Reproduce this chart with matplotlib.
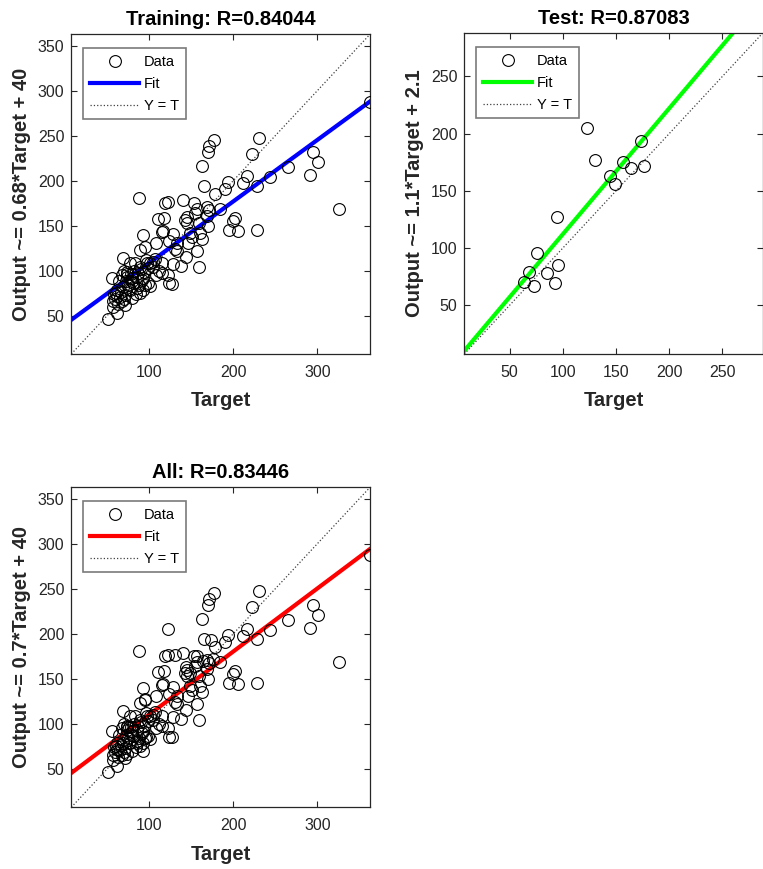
import numpy as np
import matplotlib
matplotlib.use('Agg')
import matplotlib.pyplot as plt

from matplotlib import rc
rc('font', **{'family': 'sans-serif', 'sans-serif': ['Liberation Sans', 'DejaVu Sans'], 'size': 11.5})

# training set (target, output)
train_t = [362.7, 230.2, 177.4, 171.0, 169.4, 222.2, 295.2, 300.8, 162.7, 265.1,
           291.3, 216.7, 211.5, 194.0, 189.7, 228.2, 244.0, 164.7, 178.2, 184.5,
           87.7, 121.8, 118.7, 139.7, 153.6, 156.3, 168.3, 171.4, 169.0, 325.8,
           202.4, 200.0, 194.8, 205.2, 228.2, 110.3, 117.9, 142.9, 144.4, 154.0,
           158.7, 169.8, 114.7, 116.7, 128.6, 148.4, 150.4, 160.3, 162.3, 92.5,
           108.3, 94.8, 123.8, 132.5, 146.4, 130.2, 88.5, 156.3, 143.7, 128.6,
           137.3, 158.7, 122.6, 127.4, 123.4, 115.5, 115.5, 111.1, 106.3, 100.8,
           96.8, 98.8, 98.4, 101.2, 94.8, 68.3, 77.0, 83.0, 88.9, 55.2,
           67.1, 73.0, 79.0, 84.9, 90.9, 81.0, 75.0, 69.0, 61.1, 84.9,
           88.9, 79.0, 71.0, 65.1, 59.1, 57.1, 67.1, 71.0, 63.1, 56.3,
           61.9, 50.4, 69.8, 77.0, 92.9, 145.0, 133.0, 104.0, 60.0, 74.0,
           64.0, 70.0, 74.0, 78.0, 82.0, 86.0, 90.0, 94.0, 72.0, 80.0,
           88.0, 76.0, 66.0, 84.0, 92.0, 104.0, 108.0, 62.0, 58.0, 96.0]
train_y = [287.4, 247.0, 245.6, 238.9, 231.9, 229.6, 232.2, 220.7, 215.9, 214.8,
           206.3, 205.6, 197.4, 198.9, 191.1, 194.4, 204.1, 193.7, 184.8, 168.9,
           181.1, 176.7, 174.8, 178.5, 175.6, 168.1, 171.1, 167.4, 161.1, 168.1,
           158.9, 154.8, 144.8, 144.4, 144.8, 157.4, 158.9, 156.3, 153.3, 164.4,
           152.6, 150.0, 143.3, 144.1, 141.1, 141.5, 137.8, 141.5, 135.6, 139.3,
           130.7, 126.7, 132.6, 130.4, 130.4, 124.4, 123.0, 121.9, 114.8, 107.8,
           105.6, 104.1, 94.8, 84.8, 85.6, 108.5, 97.8, 100.0, 113.0, 108.1,
           108.1, 102.6, 85.9, 83.0, 84.1, 114.1, 108.1, 108.1, 104.4, 92.2,
           95.2, 93.3, 91.5, 93.3, 89.6, 85.9, 84.1, 82.2, 78.5, 80.4,
           74.8, 70.0, 73.0, 71.1, 68.1, 65.6, 65.6, 61.9, 62.6, 59.3,
           52.6, 46.3, 68.1, 78.5, 78.5, 160.0, 122.0, 110.0, 75.0, 96.0,
           88.0, 100.0, 98.0, 96.0, 100.0, 97.0, 102.0, 98.0, 88.0, 88.0,
           84.0, 79.0, 76.0, 74.0, 92.0, 104.0, 95.0, 72.0, 74.0, 112.0]

# test set
test_t = [122.6, 173.7, 130.3, 156.4, 163.8, 176.2, 144.3, 148.9,
          95.0, 75.4, 68.3, 63.3, 73.3, 85.3, 95.6, 92.8]
test_y = [204.9, 193.5, 176.6, 175.2, 169.6, 171.4, 163.2, 156.0,
          127.1, 96.0, 78.8, 70.7, 66.9, 78.5, 84.9, 69.5]

# fit coefficients (slope, intercept) and R values
panels = ['Training', 'Test', 'All']
r_vals = ['0.84044', '0.87083', '0.83446']
fit_m = [0.683, 1.1, 0.70]
fit_b = [40.3, 2.1, 40.3]
fit_txt = ['0.68*Target + 40', '1.1*Target + 2.1', '0.7*Target + 40']
fit_col = ['#0000ff', '#00ff00', '#ff0000']
lims = [(7.2, 362.7), (7.5, 287.6), (7.2, 362.7)]
yticks = [[50, 100, 150, 200, 250, 300, 350], [50, 100, 150, 200, 250],
          [50, 100, 150, 200, 250, 300, 350]]
xticks = [[100, 200, 300], [50, 100, 150, 200, 250], [100, 200, 300]]

all_t = train_t + test_t
all_y = train_y + test_y
data = [(train_t, train_y), (test_t, test_y), (all_t, all_y)]

W, H = 763, 869
fig = plt.figure(figsize=(W / 100, H / 100), dpi=100)
# axes boxes in pixels: left, top, width, height
boxes = [(71.3, 34.3, 298.7, 319.7), (464.3, 33.3, 298.2, 320.7), (71.3, 487.3, 298.7, 320.0)]

dark = '#262626'
for i in range(3):
    l, t, w, h = boxes[i]
    ax = fig.add_axes([l / W, 1 - (t + h) / H, w / W, h / H])
    lo, hi = lims[i]
    tt, yy = data[i]
    ax.plot(tt, yy, 'o', mfc='none', mec='k', ms=8.5, mew=0.8, label='Data', zorder=3)
    xs = np.array([lo, hi])
    ax.plot(xs, fit_m[i] * xs + fit_b[i], '-', color=fit_col[i], lw=3, label='Fit', zorder=2)
    ax.plot(xs, xs, ':', color='#404040', lw=0.9, label='Y = T', zorder=1)
    ax.set_xlim(lo, hi)
    ax.set_ylim(lo, hi)
    ax.set_xticks(xticks[i])
    ax.set_yticks(yticks[i])
    ax.tick_params(direction='in', length=4, width=0.8, colors=dark, labelsize=11.5,
                   top=True, right=True)
    ax.tick_params(axis='x', pad=8)
    ax.tick_params(axis='y', pad=5)
    for s in ax.spines.values():
        s.set_color(dark)
        s.set_linewidth(0.9)
    ax.set_title('%s: R=%s' % (panels[i], r_vals[i]), fontsize=14.5, fontweight='bold', pad=7)
    ax.set_xlabel('Target', fontsize=14.5, fontweight='bold', color=dark, labelpad=8)
    ax.set_ylabel('Output ~= ' + fit_txt[i], fontsize=14.5, fontweight='bold', color=dark, labelpad=5)
    leg = ax.legend(loc='upper left', bbox_to_anchor=(12.0 / w, 1 - 14.0 / h),
                    borderaxespad=0, fontsize=10.5, frameon=True, fancybox=False,
                    handlelength=3.4, handletextpad=0.3, labelspacing=0.55, borderpad=0.45)
    fr = leg.get_frame()
    fr.set_edgecolor('#7a7a7a')
    fr.set_linewidth(1.2)
    fr.set_alpha(1)

fig.savefig('out.png', dpi=100)
